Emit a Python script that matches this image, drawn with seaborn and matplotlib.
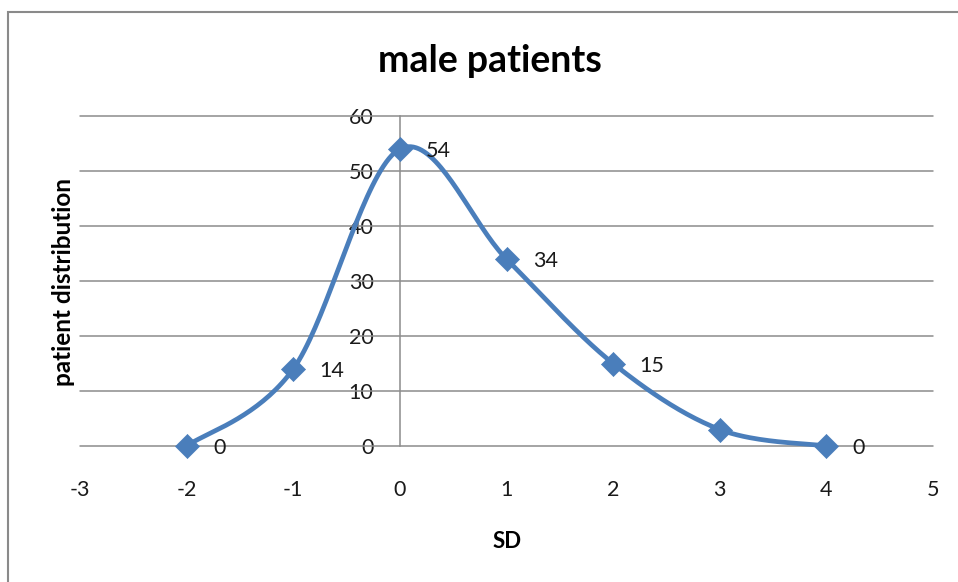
import numpy as np
import pandas as pd
import matplotlib
matplotlib.use("Agg")
import matplotlib.pyplot as plt
from matplotlib.patches import Rectangle
import seaborn as sns

# Patient counts by standard-deviation band
sd_values = [-2, -1, 0, 1, 2, 3, 4]
patients = [0, 14, 54, 34, 15, 3, 0]
show_label = [True, True, True, True, True, False, True]

x_ticks = [-3, -2, -1, 0, 1, 2, 3, 4, 5]
y_ticks = [0, 10, 20, 30, 40, 50, 60]

title = "male patients"
x_label = "SD"
y_label = "patient distribution"

LINE_BLUE = "#4A7EBB"
GRID_GRAY = "#8C8C8C"
TEXT = "#1A1A1A"


def smooth_curve(xs, ys, steps=40):
    """Bezier smoothing through every point (Catmull-Rom style control points)."""
    pts = np.column_stack([xs, ys]).astype(float)
    padded = np.vstack([pts[0], pts, pts[-1]])
    out = []
    t = np.linspace(0, 1, steps)[:, None]
    for i in range(1, len(padded) - 2):
        p0, p1, p2, p3 = padded[i - 1], padded[i], padded[i + 1], padded[i + 2]
        c1 = p1 + (p2 - p0) / 6.0
        c2 = p2 - (p3 - p1) / 6.0
        seg = ((1 - t) ** 3) * p1 + 3 * ((1 - t) ** 2) * t * c1 + 3 * (1 - t) * t ** 2 * c2 + t ** 3 * p2
        out.append(seg if i == 1 else seg[1:])
    curve = np.vstack(out)
    return curve[:, 0], curve[:, 1]


sns.set_style("white")
plt.rcParams["font.family"] = ["Lato", "DejaVu Sans"]

W, H = 958, 582
fig = plt.figure(figsize=(W / 100, H / 100), dpi=100)
fig.patch.set_facecolor("white")

# outer chart frame
fig.add_artist(Rectangle((8 / W, -0.05), 1.1, (H - 12) / H + 0.05,
                         transform=fig.transFigure, fill=False,
                         edgecolor="#8A8A8A", linewidth=1.5))

left, right, top, bottom = 80, 933, 116, 446
ax = fig.add_axes([left / W, 1 - bottom / H, (right - left) / W, (bottom - top) / H])

points = pd.DataFrame({"sd": sd_values, "patients": patients})
cx, cy = smooth_curve(sd_values, patients)
curve = pd.DataFrame({"sd": cx, "patients": cy})

sns.lineplot(data=curve, x="sd", y="patients", ax=ax, color=LINE_BLUE,
             linewidth=3.4, sort=False, estimator=None, zorder=3, clip_on=False)
sns.scatterplot(data=points, x="sd", y="patients", ax=ax, marker="D", s=150,
                color=LINE_BLUE, edgecolor=LINE_BLUE, linewidth=0.5, zorder=4,
                clip_on=False)

ax.set_xlim(x_ticks[0], x_ticks[-1])
ax.set_ylim(y_ticks[0], y_ticks[-1])
ax.set_xticks(x_ticks)
ax.set_yticks(y_ticks)
ax.set_xticklabels([str(v) for v in x_ticks])
ax.set_yticklabels([str(v) for v in y_ticks])

# horizontal gridlines only
ax.grid(False)
for yv in y_ticks:
    ax.axhline(yv, color=GRID_GRAY, linewidth=1.1, zorder=1, clip_on=False)

for side in ["top", "right", "bottom"]:
    ax.spines[side].set_visible(False)
ax.spines["left"].set_position(("data", 0))
ax.spines["left"].set_color(GRID_GRAY)
ax.spines["left"].set_linewidth(1.1)

ax.tick_params(axis="y", length=0, pad=19, labelsize=15.5, labelcolor=TEXT)
ax.tick_params(axis="x", length=0, pad=24.5, labelsize=15.5, labelcolor=TEXT)

ax.set_xlabel("")
ax.set_ylabel("")

# value labels beside the markers
for xv, yv, show in zip(sd_values, patients, show_label):
    if show:
        ax.annotate(str(yv), (xv, yv), xytext=(19, -1.5), textcoords="offset points",
                    ha="left", va="center", fontsize=15.5, color=TEXT, zorder=5)

fig.text(490 / W, 1 - 61 / H, title, ha="center", va="center",
         fontsize=27, fontweight="bold", color="black")
fig.text(507 / W, 1 - 541 / H, x_label, ha="center", va="center",
         fontsize=16, fontweight="bold", color="black")
fig.text(64 / W, 1 - 282 / H, y_label, ha="center", va="center", rotation=90,
         fontsize=17.5, fontweight="bold", color="black")

fig.savefig("out.png", dpi=100, facecolor="white")
